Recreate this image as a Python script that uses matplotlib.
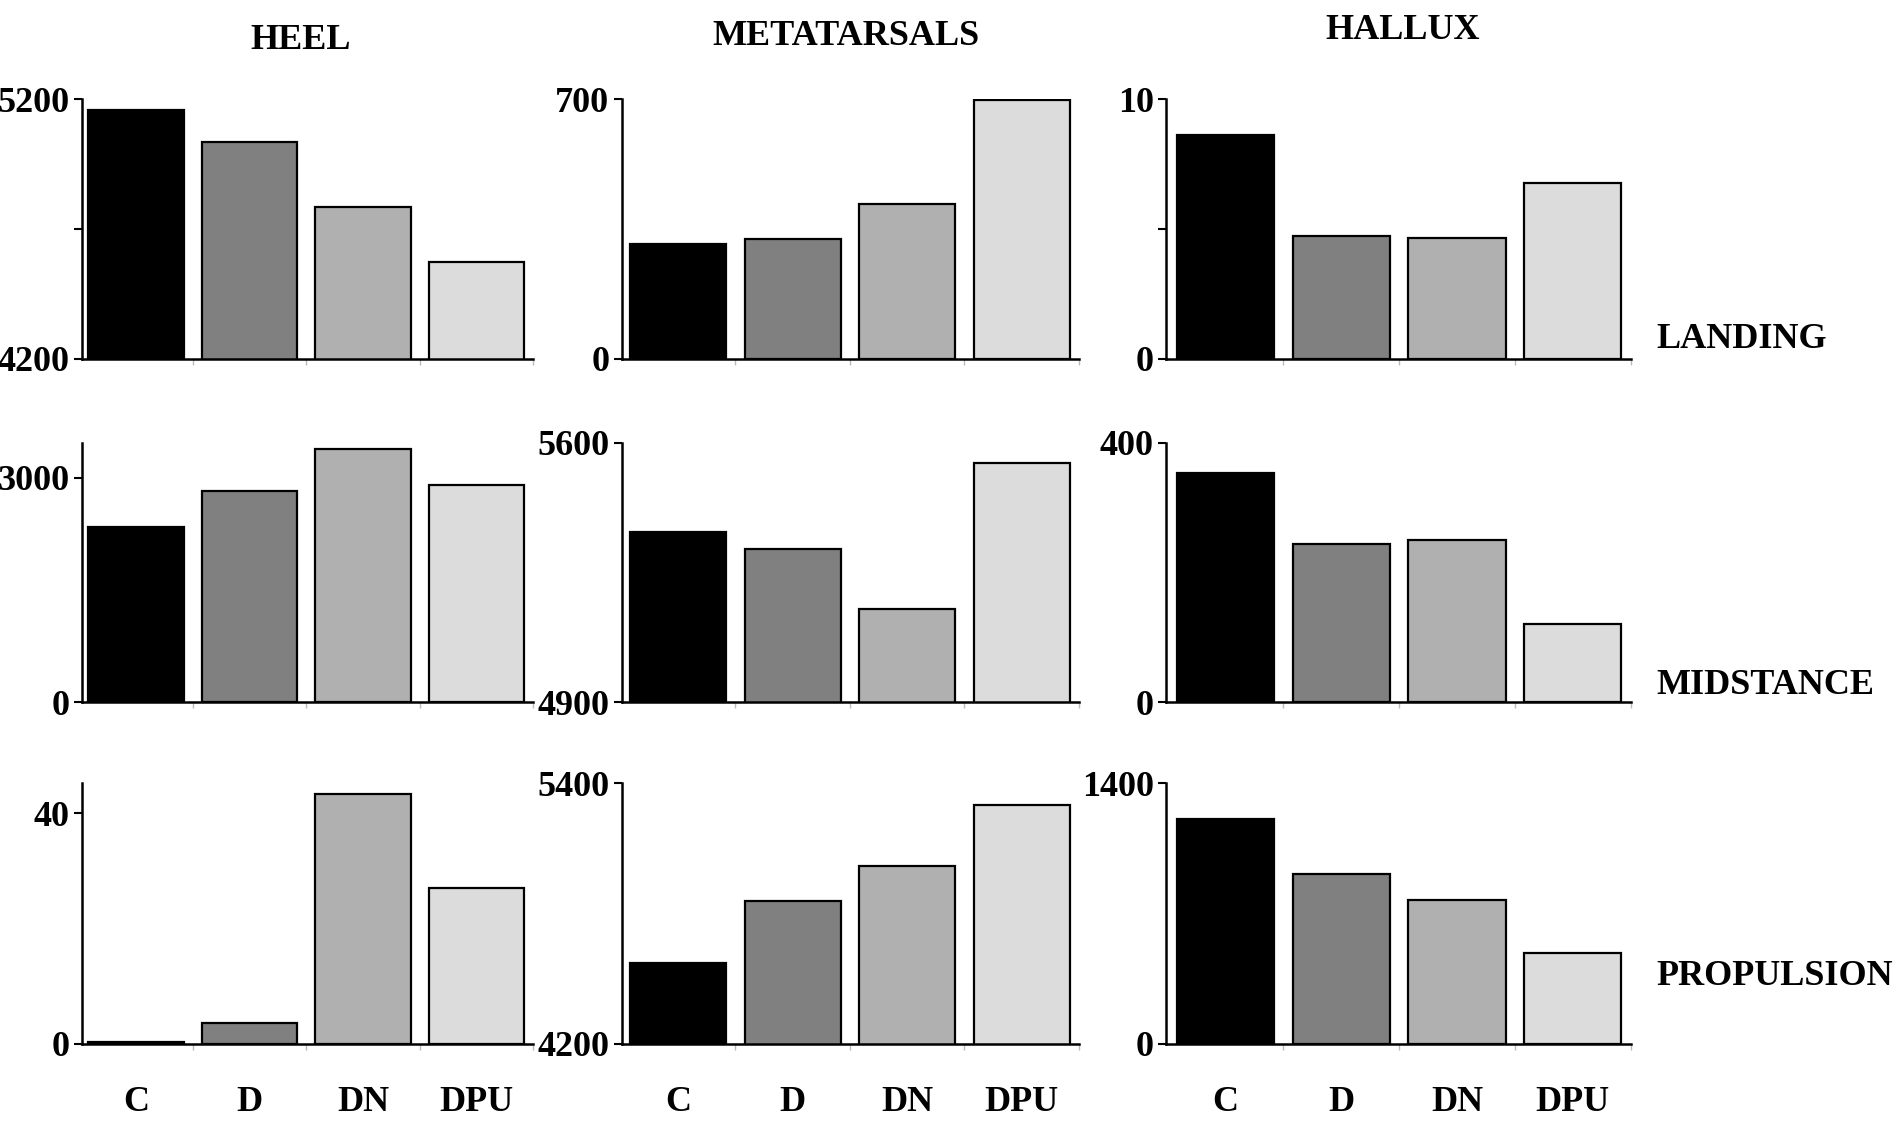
import matplotlib
matplotlib.use("Agg")
import matplotlib.pyplot as plt

plt.rcParams['font.family'] = ['Liberation Serif', 'DejaVu Serif']
plt.rcParams['font.weight'] = 'bold'

groups = ["C", "D", "DN", "DPU"]
regions = ["HEEL", "METATARSALS", "HALLUX"]
phases = ["LANDING", "MIDSTANCE", "PROPULSION"]
colors = ["#000000", "#808080", "#b0b0b0", "#dcdcdc"]

# values per phase (rows) and region (columns)
heel_landing = [5158, 5036, 4784, 4574]
meta_landing = [310, 324, 419, 698]
hallux_landing = [8.64, 4.74, 4.65, 6.76]

heel_midstance = [2335, 2822, 3389, 2903]
meta_midstance = [5358, 5312, 5152, 5544]
hallux_midstance = [353, 243, 250, 120]

heel_propulsion = [0.3, 3.6, 43.4, 27.1]
meta_propulsion = [4574, 4859, 5020, 5300]
hallux_propulsion = [1206, 914, 771, 486]

values = [
    [heel_landing, meta_landing, hallux_landing],
    [heel_midstance, meta_midstance, hallux_midstance],
    [heel_propulsion, meta_propulsion, hallux_propulsion],
]
ylims = [
    [(4200, 5200), (0, 700), (0, 10)],
    [(0, 3470), (4900, 5600), (0, 400)],
    [(0, 45.2), (4200, 5400), (0, 1400)],
]
yticks = [
    [[4200, 5200], [0, 700], [0, 10]],
    [[0, 3000], [4900, 5600], [0, 400]],
    [[0, 40], [4200, 5400], [0, 1400]],
]
yminor = [
    [[4700], [], [5]],
    [[], [], []],
    [[], [], []],
]

W, H = 1568.0, 927.0
col_px = [(68, 440), (513, 890), (962, 1345)]
row_px = [(82, 296), (365, 579), (646, 861)]
xlims = [(-0.47, 3.47), (-0.49, 3.43), (-0.51, 3.42)]

fig = plt.figure(figsize=(19.01, 11.24), dpi=100)
FS = 26

for r in range(3):
    for c in range(3):
        x0, x1 = col_px[c]
        t, b = row_px[r]
        ax = fig.add_axes([x0 / W, 1 - b / H, (x1 - x0) / W, (b - t) / H])
        ax.bar(range(4), values[r][c], width=0.84, color=colors,
               edgecolor="black", linewidth=1.6, zorder=2)
        ax.set_ylim(*ylims[r][c])
        ax.set_xlim(*xlims[c])
        for s in ["top", "right"]:
            ax.spines[s].set_visible(False)
        for s in ["left", "bottom"]:
            ax.spines[s].set_linewidth(1.8)
            ax.spines[s].set_zorder(3)
        ax.set_yticks(yticks[r][c])
        ax.set_yticklabels([str(v) for v in yticks[r][c]], fontsize=FS, fontweight="bold")
        ax.set_yticks(yminor[r][c], minor=True)
        ax.tick_params(axis="y", which="both", direction="out", length=6, width=1.5, pad=3)
        ax.set_xticks([0.5, 1.5, 2.5, 3.5], minor=True)
        ax.tick_params(axis="x", which="minor", length=4, width=1, color="#bbbbbb")
        if r == 2:
            ax.set_xticks(range(4))
            ax.set_xticklabels(groups, fontsize=FS, fontweight="bold")
            ax.tick_params(axis="x", which="major", length=0, pad=30)
        else:
            ax.set_xticks([])

title_pos = [(248, 33), (698, 30), (1157, 25)]
for name, (x, y) in zip(regions, title_pos):
    fig.text(x / W, 1 - y / H, name, ha="center", va="center", fontsize=FS, fontweight="bold")

phase_pos = [(1366, 280), (1366, 565), (1366, 805)]
for name, (x, y) in zip(phases, phase_pos):
    fig.text(x / W, 1 - y / H, name, ha="left", va="center", fontsize=FS, fontweight="bold")

fig.savefig("out.png", dpi=100, facecolor="white")
